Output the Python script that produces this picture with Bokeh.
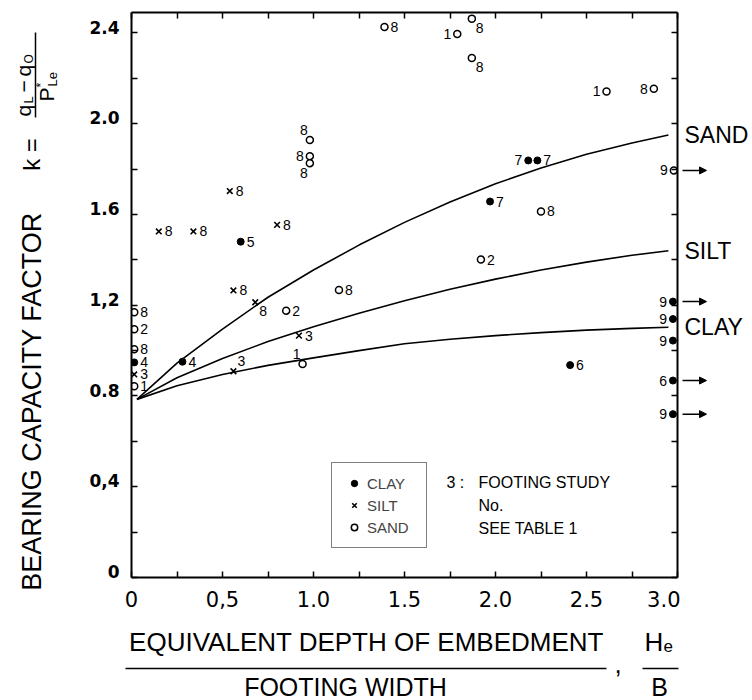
import numpy as np
from bokeh.plotting import figure
from bokeh.layouts import row, column
from bokeh.models import (ColumnDataSource, Range1d, LinearAxis, FixedTicker,
                          CustomJSTickFormatter, Label, Arrow, NormalHead,
                          Legend, LegendItem)
from bokeh.embed import file_html
from bokeh.resources import INLINE
from bokeh.core.properties import value, field

FONT = "Liberation Sans"
TICK_FONT = "DejaVu Sans"

# ---- design curves: k against He/B ----
curve_x = [0.03, 0.25, 0.5, 0.75, 1.0, 1.25, 1.5, 1.75, 2.0, 2.25, 2.5, 2.75, 2.95]
sand_k = [0.785, 0.945, 1.095, 1.235, 1.355, 1.465, 1.565, 1.655, 1.735, 1.805, 1.865, 1.915, 1.95]
silt_k = [0.785, 0.88, 0.965, 1.04, 1.105, 1.165, 1.22, 1.27, 1.315, 1.355, 1.39, 1.42, 1.44]
clay_k = [0.785, 0.845, 0.895, 0.935, 0.968, 1.0, 1.03, 1.05, 1.066, 1.079, 1.09, 1.098, 1.103]

# ---- footing tests: He/B, k, study number, label side, He/B beyond 3 ----
clay_x = [0.015, 0.28, 0.60, 1.97, 2.18, 2.23, 2.41, 2.975, 2.975, 2.975, 2.975, 2.975]
clay_y = [0.948, 0.951, 1.48, 1.657, 1.838, 1.838, 0.936, 1.216, 1.139, 1.044, 0.868, 0.72]
clay_no = ["4", "4", "5", "7", "7", "7", "6", "9", "9", "9", "6", "9"]
clay_side = ["E", "E", "E", "E", "W", "E", "E", "W", "W", "W", "W", "W"]
clay_beyond = [False, False, False, False, False, False, False, True, False, False, True, True]

silt_x = [0.015, 0.15, 0.34, 0.54, 0.80, 0.56, 0.68, 0.92, 0.56]
silt_y = [0.895, 1.525, 1.525, 1.703, 1.554, 1.265, 1.213, 1.066, 0.909]
silt_no = ["3", "8", "8", "8", "8", "8", "8", "3", "3"]
silt_side = ["E", "E", "E", "E", "E", "E", "SE", "E", "NE"]

sand_x = [0.015, 0.015, 0.015, 0.015, 0.85, 1.14, 0.94, 0.98, 0.98, 0.98,
          1.39, 1.79, 1.87, 1.87, 2.61, 2.87, 2.25, 1.92, 2.98]
sand_y = [1.169, 1.094, 1.006, 0.843, 1.176, 1.267, 0.941, 1.928, 1.857, 1.826,
          2.426, 2.395, 2.463, 2.289, 2.142, 2.154, 1.613, 1.401, 1.794]
sand_no = ["8", "2", "8", "1", "2", "8", "1", "8", "8", "8",
           "8", "1", "8", "8", "1", "8", "8", "2", "9"]
sand_side = ["E", "E", "E", "E", "E", "E", "NW", "NW", "W", "SW",
             "E", "W", "SE", "SE", "W", "W", "E", "E", "W"]
sand_beyond = [False] * 18 + [True]

# ---- axis ticks ----
x_ticks = [0, 0.5, 1.0, 1.5, 2.0, 2.5, 3.0]
x_minor = [0.25, 0.75, 1.25, 1.75, 2.25, 2.75]
x_tick_text = ["0", "0,5", "1.0", "1.5", "2.0", "2.5", "3.0"]
y_ticks = [0, 0.4, 0.8, 1.2, 1.6, 2.0, 2.4]
y_minor = [0.2, 0.6, 1.0, 1.4, 1.8, 2.2]
y_tick_text = ["0", "0,4", "0.8", "1,2", "1.6", "2.0", "2.4"]

X_MAX, Y_MAX = 3.0, 2.49

# page layout (pixels): left title strip | chart | right curve names ; x title below
W, H = 752, 700
LEFT_W = 62
TOP_H = 618
FRAME_L, FRAME_R, FRAME_T, FRAME_B = 131, 677, 12, 577
MAIN_W = (FRAME_R + 3) - LEFT_W
RIGHT_W = W - LEFT_W - MAIN_W


def blank_fig(width, height, x_range, y_range, **kw):
    f = figure(width=width, height=height, x_range=x_range, y_range=y_range,
               output_backend="svg", toolbar_location=None,
               x_axis_location=None, y_axis_location=None,
               background_fill_color="white", border_fill_color="white",
               outline_line_color=None, frame_align=False, **kw)
    f.grid.visible = False
    return f


def put_text(fig, x, y, text, size, align="left", angle=0.0):
    fig.text(x=[x], y=[y], text=[text], angle=angle, text_align=align,
             text_baseline="middle", text_font=value(FONT),
             text_font_size=f"{size}px", text_color="black")


p = figure(width=MAIN_W, height=TOP_H, x_range=Range1d(0, X_MAX), y_range=Range1d(0, Y_MAX),
           output_backend="svg", toolbar_location=None,
           x_axis_location=None, y_axis_location=None,
           min_border_left=FRAME_L - LEFT_W, min_border_right=3,
           min_border_top=FRAME_T, min_border_bottom=TOP_H - FRAME_B,
           background_fill_color="white", border_fill_color="white",
           outline_line_color=None, frame_align=False)
p.grid.visible = False

blank = CustomJSTickFormatter(code="return ''")
tick_style = dict(axis_line_width=2, axis_line_color="black",
                  major_tick_in=6, major_tick_out=0, minor_tick_in=6, minor_tick_out=0,
                  major_tick_line_width=1.5, minor_tick_line_width=1.5,
                  major_tick_line_color="black", minor_tick_line_color="black")

x_ticker = FixedTicker(ticks=x_ticks, minor_ticks=x_minor)
y_ticker = FixedTicker(ticks=y_ticks, minor_ticks=y_minor)

bottom = LinearAxis(ticker=x_ticker,
                    major_label_overrides=dict(zip(x_ticks, x_tick_text)),
                    major_label_standoff=13,
                    major_label_text_font=TICK_FONT, major_label_text_font_size="21px",
                    major_label_text_color="black", **tick_style)
top = LinearAxis(ticker=x_ticker, formatter=blank, major_label_standoff=0,
                 major_label_text_font_size="1px", **tick_style)
left = LinearAxis(ticker=y_ticker, formatter=blank, major_label_standoff=0,
                  major_label_text_font_size="1px", **tick_style)
right = LinearAxis(ticker=y_ticker, formatter=blank, major_label_standoff=0,
                   major_label_text_font_size="1px", **tick_style)

# y tick labels sit on their tick: a label-only axis on a slightly shifted range
label_shift = 0.026
p.extra_y_ranges = {"ylab": Range1d(-label_shift, Y_MAX - label_shift)}
ylab = LinearAxis(y_range_name="ylab", ticker=FixedTicker(ticks=y_ticks),
                  major_label_overrides=dict(zip(y_ticks, y_tick_text)),
                  major_label_standoff=6, axis_line_color=None,
                  major_tick_line_color=None, minor_tick_line_color=None,
                  major_label_text_font=TICK_FONT, major_label_text_font_style="bold",
                  major_label_text_font_size="17px", major_label_text_color="black")

p.add_layout(bottom, "below")
p.add_layout(top, "above")
p.add_layout(left, "left")
p.add_layout(ylab, "left")
p.add_layout(right, "right")

# ---- curves ----
for ks in (sand_k, silt_k, clay_k):
    p.line(curve_x, ks, line_color="black", line_width=1.6)

# ---- footing test points ----
r_clay = p.scatter(clay_x, clay_y, marker="circle", size=7,
                   fill_color="black", line_color="black")
r_silt = p.scatter(silt_x, silt_y, marker="x", size=8,
                   line_color="black", line_width=1.6)
r_sand = p.scatter(sand_x, sand_y, marker="circle", size=7,
                   fill_color="white", line_color="black", line_width=1.5)

# study-number labels beside each point
SIDE = {"E": (6, 0, "left"), "W": (-6, 0, "right"),
        "NW": (-2, -10, "right"), "SW": (-2, 10, "right"),
        "SE": (4, 9, "left"), "NE": (4, -10, "left")}
all_x = clay_x + silt_x + sand_x
all_y = clay_y + silt_y + sand_y
all_no = clay_no + silt_no + sand_no
all_side = clay_side + silt_side + sand_side
lab_src = ColumnDataSource(dict(
    x=all_x, y=all_y, no=all_no,
    dx=[SIDE[s][0] for s in all_side],
    dy=[SIDE[s][1] for s in all_side],
    align=[SIDE[s][2] for s in all_side]))
p.text(x="x", y="y", text="no", source=lab_src, x_offset="dx", y_offset="dy",
       text_align=field("align"), text_baseline="middle",
       text_font=value(FONT), text_font_size="14px", text_color="black")

# ---- legend ----
legend = Legend(items=[LegendItem(label="CLAY", renderers=[r_clay]),
                       LegendItem(label="SILT", renderers=[r_silt]),
                       LegendItem(label="SAND", renderers=[r_sand])],
                location=(200, 29), orientation="vertical",
                border_line_color="black", border_line_width=1.5,
                background_fill_color="white", background_fill_alpha=1,
                padding=11, spacing=4, margin=0, label_standoff=2,
                glyph_width=22, glyph_height=16, label_height=18, label_width=48,
                label_text_font=FONT, label_text_font_size="15px")
p.add_layout(legend)

# note beside the legend (offsets from the chart frame's lower-left corner)
for text, px, py in (("3 :", 446, 490), ("FOOTING STUDY", 478, 490),
                     ("No.", 478, 513), ("SEE TABLE 1", 478, 536)):
    p.add_layout(Label(text=text, x=px - FRAME_L, y=FRAME_B - py,
                       x_units="screen", y_units="screen",
                       text_font=FONT, text_font_size="16px", text_color="black"))

# ---- right strip: curve names and arrows, on the chart's k scale ----
rt = blank_fig(RIGHT_W, TOP_H, Range1d(W - RIGHT_W, W), p.y_range,
               min_border_left=0, min_border_right=0,
               min_border_top=FRAME_T, min_border_bottom=TOP_H - FRAME_B)
names = ["SAND", "SILT", "CLAY"]
rt.text(x=[FRAME_R + 7] * 3, y=[sand_k[-1], silt_k[-1], clay_k[-1]], text=names,
        text_baseline="middle", text_font=value(FONT), text_font_size="23px",
        text_color="black")
arr_y = [y for y, b in zip(clay_y + sand_y, clay_beyond + sand_beyond) if b]
arr_src = ColumnDataSource(dict(x0=[FRAME_R + 5] * len(arr_y),
                                x1=[FRAME_R + 29] * len(arr_y), y=arr_y))
rt.add_layout(Arrow(end=NormalHead(size=7, fill_color="black", line_color="black"),
                    x_start="x0", y_start="y", x_end="x1", y_end="y",
                    source=arr_src, line_width=1.5, line_color="black"))

# ---- left strip: y title and k = (qL - qO) / P*Le, read bottom to top ----
lf = blank_fig(LEFT_W, TOP_H, Range1d(0, LEFT_W), Range1d(TOP_H, 0), min_border=0)
up = np.pi / 2
put_text(lf, 31, 401, "BEARING CAPACITY FACTOR", 27, align="center", angle=up)
put_text(lf, 31, 154, "k =", 24, align="center", angle=up)
for text, px, py, size in (("q", 23, 116, 21), ("L", 28, 103, 13), ("\u2212", 23, 92, 21),
                           ("q", 23, 76, 21), ("O", 28, 63, 12),
                           ("P", 46, 101, 21), ("*", 40, 87, 12), ("Le", 52, 86, 13)):
    put_text(lf, px, py, text, size, angle=up)
lf.line(x=[35, 35], y=[117, 32], line_color="black", line_width=1.5)

# ---- bottom strip: x title as a fraction, then He/B ----
bt = blank_fig(W, H - TOP_H, Range1d(0, W), Range1d(H, TOP_H), min_border=0)
put_text(bt, 366, 641, "EQUIVALENT DEPTH OF EMBEDMENT", 26, align="center")
put_text(bt, 345, 686, "FOOTING WIDTH", 25, align="center")
put_text(bt, 614, 663, ",", 26)
put_text(bt, 644, 641, "H", 26)
put_text(bt, 663, 645, "e", 17)
put_text(bt, 659, 686, "B", 25, align="center")
bt.segment(x0=[125, 642], y0=[668, 668], x1=[606, 678], y1=[668, 668],
           line_color="black", line_width=1.5)

layout = column(row(lf, p, rt), bt)
open("out.html", "w").write(file_html(layout, INLINE))
